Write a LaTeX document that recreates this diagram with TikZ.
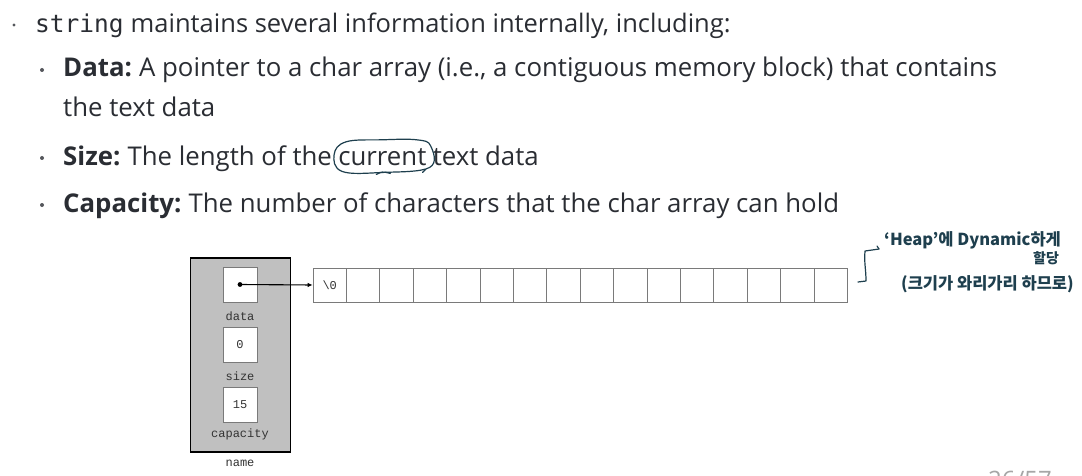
\documentclass[tikz,border=0pt]{standalone}
\usepackage{fontspec}
\setmainfont{Open Sans}
\setmonofont{DejaVu Sans Mono}
\newfontfamily\cjk{Noto Sans CJK KR}
\newfontfamily\codefont{Liberation Mono}
\usetikzlibrary{arrows.meta,calc}
\definecolor{txt}{HTML}{2A2D33}
\definecolor{ink}{HTML}{1E3F4E}
\definecolor{boxgray}{HTML}{C0C0C0}
\definecolor{cellline}{HTML}{7A7A7A}
\definecolor{labgray}{HTML}{333333}
\begin{document}
\begin{tikzpicture}[x=1pt,y=-1pt,
  body/.style={inner sep=0pt, anchor=base west, text=txt, font=\fontsize{25.5}{28}\selectfont},
  subbody/.style={body, font=\fontsize{25.8}{28}\selectfont},
  bul/.style={fill=txt!80},
  outerbox/.style={draw=black, line width=1.3pt, fill=boxgray, minimum width=100pt, minimum height=194pt, inner sep=0pt},
  fieldbox/.style={draw=cellline, line width=0.7pt, fill=white, minimum width=34pt, minimum height=35pt, inner sep=0pt, font=\codefont\fontsize{12}{12}\selectfont, text=labgray},
  cellbox/.style={draw=cellline, line width=0.7pt, fill=white, minimum width=33.4pt, minimum height=34pt, inner sep=0pt, font=\codefont\fontsize{12}{12}\selectfont, text=labgray},
  fieldlab/.style={inner sep=0pt, font=\codefont\fontsize{12}{12}\selectfont, text=labgray},
  hand/.style={inner sep=0pt, text=ink, font=\cjk\bfseries\fontsize{16.5}{16.5}\selectfont},
  handline/.style={draw=ink, line width=1.2pt, line cap=round, line join=round}
]
\fill[white] (0,0) rectangle (1082,476);
\useasboundingbox (0,0) rectangle (1082,476);

% ---- bullet text ----
\fill[bul] (14,25) circle (1.7);
\node[body] (l1a) at (35,33) {\ttfamily\fontsize{24.5}{28}\selectfont string};
\node[body] (l1b) at (l1a.base east) {\ maintains several information internally, including:};

\fill[bul] (42,70) circle (2);
\node[subbody] (l2a) at (63,77) {\bfseries Data:};
\node[subbody] (l2b) at (l2a.base east) {\ A pointer to a char array (i.e., a contiguous memory block) that contains};
\node[subbody] (l3) at (63,117) {the text data};

\fill[bul] (42,158) circle (2);
\node[subbody] (l4a) at (63,165) {\bfseries Size:};
\node[subbody] (l4b) at (l4a.base east) {\ The length of the};
\node[subbody] (cur) at ([xshift=6pt]l4b.base east) {current};
\node[subbody] (l4d) at ([xshift=6pt]cur.base east) {text data};

\fill[bul] (42,205) circle (2);
\node[subbody] (l5a) at (63,212) {\bfseries Capacity:};
\node[subbody] (l5b) at (l5a.base east) {\ The number of characters that the char array can hold};

% ---- circle around "current" ----
\draw[handline] plot[smooth cycle, tension=0.65] coordinates {
  ([shift={(-4,-2)}]cur.west)
  ([shift={(8,-6)}]cur.north west)
  ([shift={(0,-8)}]cur.north)
  ([shift={(-10,-8)}]cur.north east)
  ([shift={(4,-2)}]cur.north east)
  ([shift={(3,2)}]cur.south east)
  ([shift={(0,7)}]cur.south)
  ([shift={(4,6)}]cur.south west)
};
\draw[handline] ([shift={(-1,4)}]cur.south east) -- ([shift={(-4,7)}]cur.south east);
\draw[handline] ([shift={(-6,9)}]cur.south) .. controls ([shift={(0,6)}]cur.south) .. ([shift={(8,8)}]cur.south);

% ---- string object ----
\node[outerbox] (obj) at (240.5,355) {};
\node[fieldbox] (fdata) at (240,284.5) {};
\node[fieldlab] (ldata) at (240,316) {data};
\node[fieldbox] (fsize) at (240,345) {0};
\node[fieldlab] (lsize) at (240,376) {size};
\node[fieldbox] (fcap) at (240,404.5) {15};
\node[fieldlab] (lcap) at (240,434) {capacity};
\node[fieldlab] (lname) at (240,463) {name};

% ---- char array ----
\node[cellbox] (c0) at (329.7,285) {\textbackslash 0};
\foreach \i in {1,...,15}{
  \node[cellbox] (c\i) at (329.7+33.4*\i,285) {};
}

% ---- pointer ----
\fill (fdata.center) circle (2.4);
\draw[line width=1.1pt, -{Latex[length=5pt,width=4.5pt]}] (fdata.center) -- (c0.west);

% ---- handwritten note ----
\coordinate (b1) at (879,249);
\coordinate (b2) at (865,251);
\coordinate (b3) at (866,281);
\coordinate (b4) at (858,282);
\draw[handline] (b1) -- (b2) to[out=-95,in=90] (b3) -- (b4);
\draw[handline] ([shift={(-2,-3)}]b1) -- (b1);
\node[hand, anchor=west] (n1) at (884,240) {‘Heap’에 Dynamic하게};
\node[hand, anchor=center, font=\cjk\bfseries\fontsize{14}{14}\selectfont] (n2) at (1046,258) {할당};
\node[hand, anchor=west] (n3) at (901,284) {(크기가 와리가리 하므로)};

% ---- page number (cut off) ----
\node[anchor=north, inner sep=0pt, text=black!35, font=\fontsize{24}{24}\selectfont] (pg) at (1020,471) {26/57};
\end{tikzpicture}
\end{document}
